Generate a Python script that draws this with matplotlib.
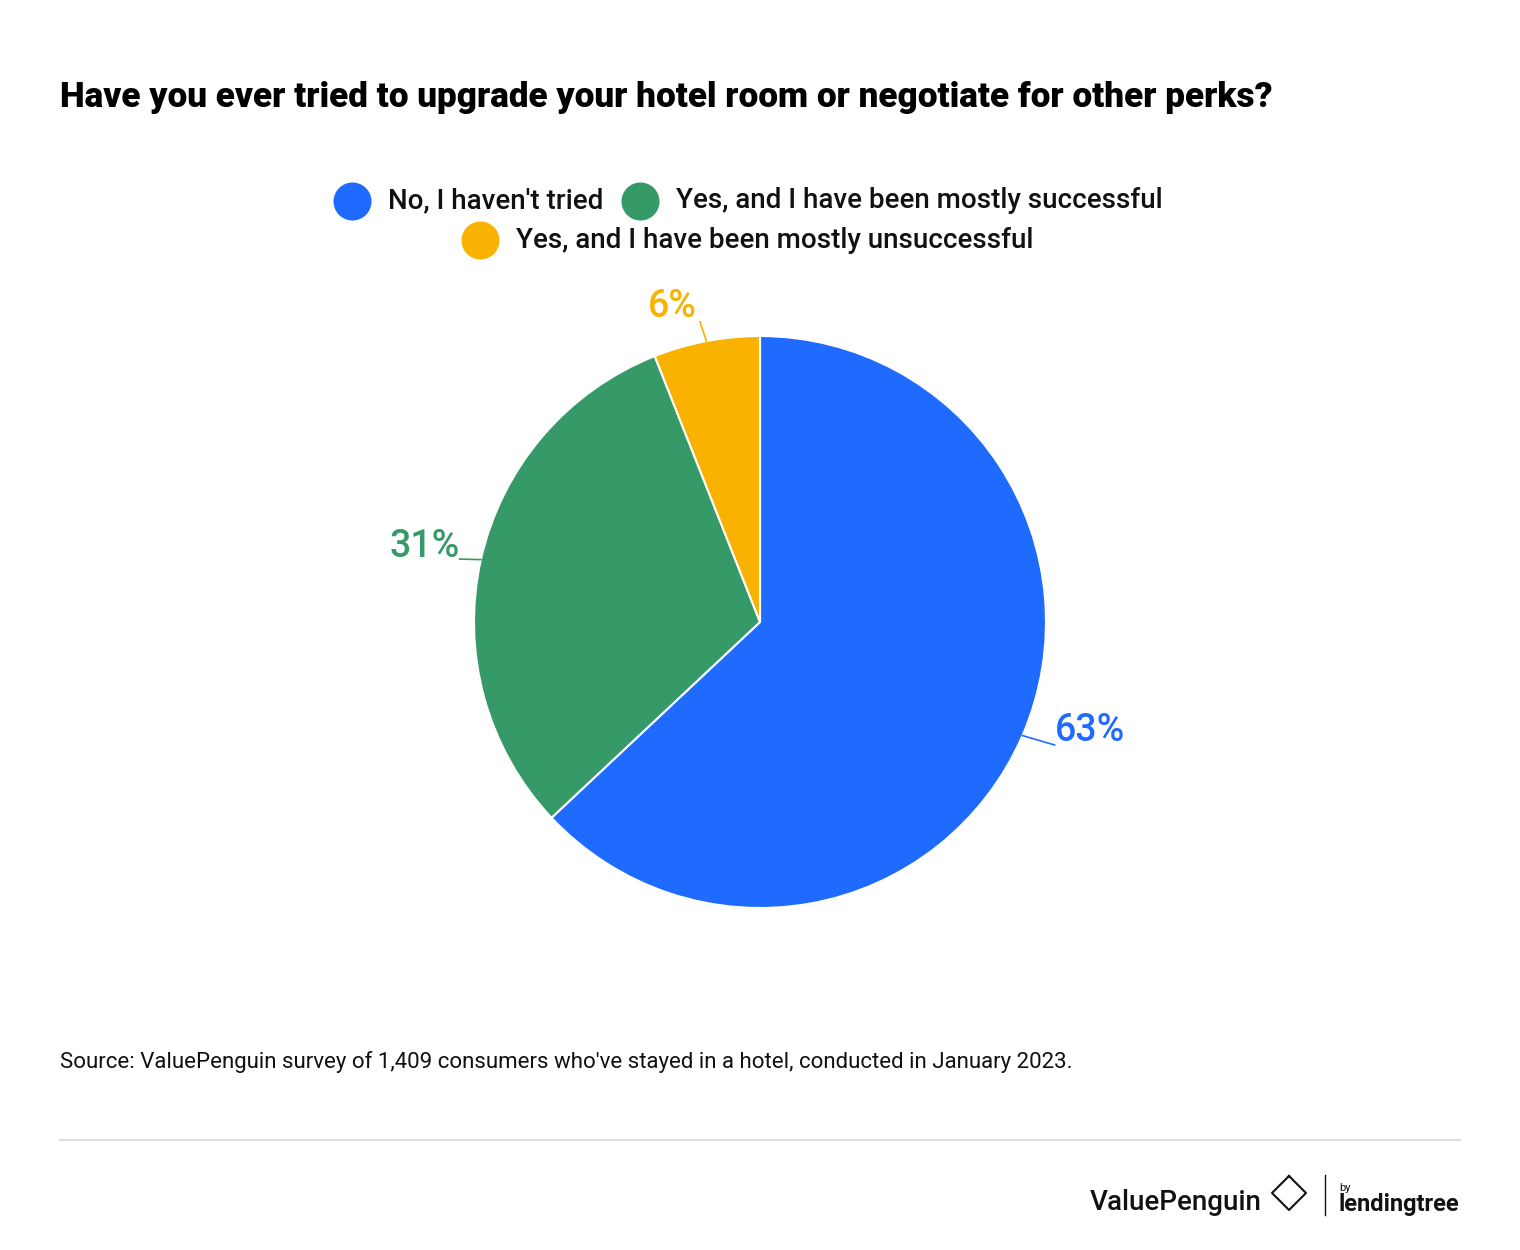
import matplotlib
matplotlib.use("Agg")
import numpy as np
import matplotlib.pyplot as plt

title = "Have you ever tried to upgrade your hotel room or negotiate for other perks?"
categories = ["No, I haven't tried", "Yes, and I have been mostly successful",
              "Yes, and I have been mostly unsuccessful"]
values = [63, 31, 6]
colors = ["#1F6BFF", "#359A67", "#F9B200"]
source = "Source: ValuePenguin survey of 1,409 consumers who've stayed in a hotel, conducted in January 2023."

W, H = 1520, 1250
fig = plt.figure(figsize=(W / 100, H / 100), dpi=100)
plt.rcParams["font.family"] = "Roboto"

# overlay in pixel coords
ov = fig.add_axes([0, 0, 1, 1])
ov.set_xlim(0, W)
ov.set_ylim(H, 0)
ov.axis("off")

# pie axes, centre (760,622), radius 286 px
cx, cy, r = 760, 622, 286
ax = fig.add_axes([(cx - r) / W, (H - cy - r) / H, 2 * r / W, 2 * r / H])
ax.pie(values, colors=colors, startangle=90, counterclock=False,
       wedgeprops=dict(edgecolor="white", linewidth=1.5))
ax.set_xlim(-1, 1)
ax.set_ylim(-1, 1)
ax.set_aspect("equal")

# percent labels with leader lines
label_pos = [((1.03, -0.43), "left", "center", (1.03, -0.38)),
             ((-1.05, 0.22), "right", "bottom", (-1.05, 0.20)),
             ((-0.21, 1.05), "right", "bottom", (-0.22, 1.04))]
start = 90
for v, c, (end, ha, va, tpos) in zip(values, colors, label_pos):
    mid = np.deg2rad(start - v * 3.6 / 2)
    start -= v * 3.6
    p = (np.cos(mid), np.sin(mid))
    ax.plot([p[0], end[0]], [p[1], end[1]], color=c, lw=1.2, clip_on=False)
    ax.text(tpos[0], tpos[1], f"{v}%", color=c, fontsize=27, fontweight="medium",
            ha=ha, va=va, clip_on=False)

# title
ov.text(60, 98, title, fontsize=25.3, fontweight="heavy", va="center", ha="left")

# legend
leg = [(352, 201, 388), (640, 201, 676), (480, 240, 516)]
for (mx, my, tx), lab, c in zip(leg, categories, colors):
    ov.scatter([mx], [my], s=750, color=c, linewidths=0)
    ov.text(tx, my, lab, fontsize=20, fontweight="medium", va="center", ha="left", color="#111")

ov.text(60, 1062, source, fontsize=16, va="center", ha="left", color="#111")
ov.plot([60, 1460], [1140, 1140], color="#DDDDDD", lw=1.5)

# branding
ov.text(1090, 1202, "ValuePenguin", fontsize=20, fontweight="medium", va="center", ha="left", color="#111")
ov.plot([1289, 1306, 1289, 1272, 1289], [1176, 1193, 1210, 1193, 1176], color="#111", lw=1.5)
ov.plot([1325, 1325], [1175, 1215], color="#111", lw=1)
ov.text(1339, 1188, "by", fontsize=8, va="center", ha="left", color="#111")
ov.text(1338, 1204, "lendingtree", fontsize=17, fontweight="bold", va="center",
        ha="left", color="#111")

fig.savefig("out.png", dpi=100, facecolor="white")
